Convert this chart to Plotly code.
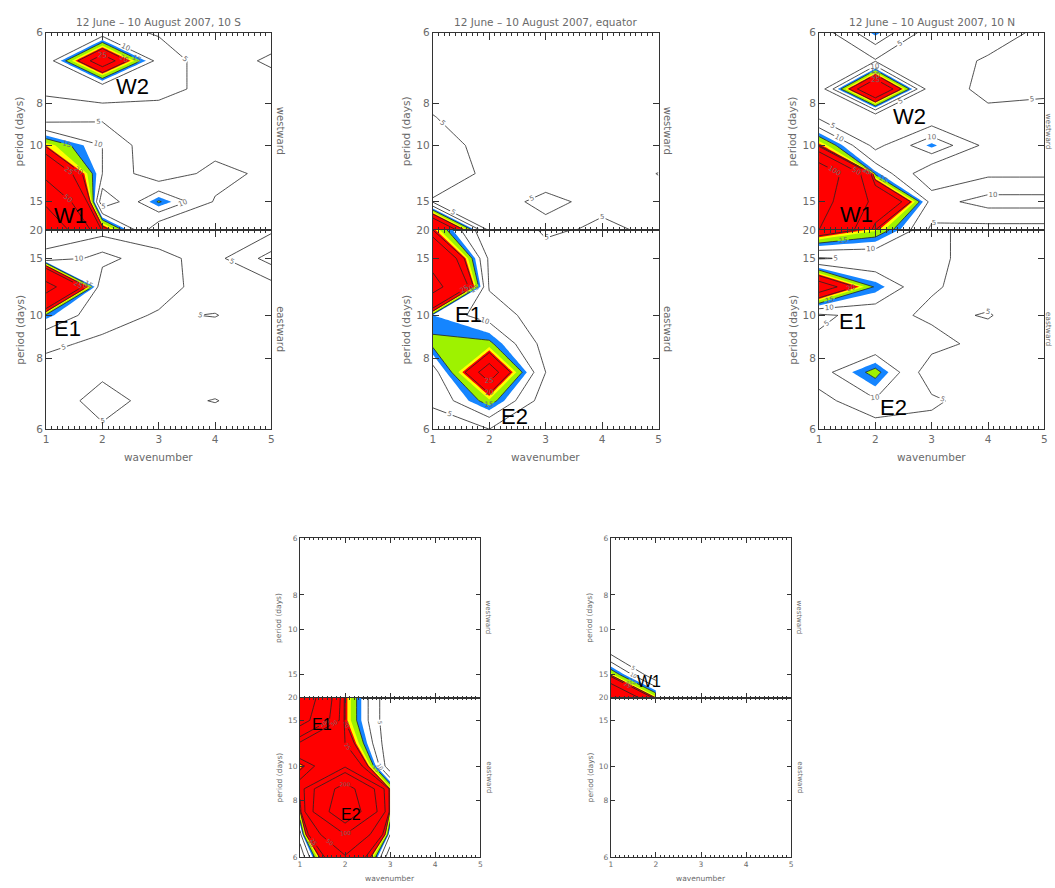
import plotly.graph_objects as go

FIG_W, FIG_H = 1055, 888

# ---------------------------------------------------------------- data
WAVENUMBER = [1, 2, 3, 4, 5]
# spectral rows: 3/60 ... 10/60 cycles per day (60-day window)
PERIOD_DAYS = [20, 15, 12, 10, 60 / 7, 7.5, 60 / 9, 6]
PERIOD_TICKS = [6, 8, 10, 15, 20]

LINE_LEVELS = [5, 10, 15, 20, 25, 50, 100, 200]
FILL_LEVELS = [13, 15, 17.5, 19]
FILL_COLORS = ["#1585ff", "#9ef200", "#ffff00", "#ff0000"]

TITLE_10S = "12 June \u2013 10 August 2007, 10 S"
TITLE_EQ = "12 June \u2013 10 August 2007, equator"
TITLE_10N = "12 June \u2013 10 August 2007, 10 N"

# power, rows follow PERIOD_DAYS (20 d first), columns follow WAVENUMBER
S10_WEST = [
    [150, 23, 0.5, 3, 2],
    [90, 0.5, 15.5, 4.5, 3],
    [38, 10, 1, 7, 3.5],
    [19, 10, 0.5, 2.5, 2],
    [2, 4, 2, 2, 2],
    [6, 6, 7, 3, 2],
    [7, 30, 8, 2, 6],
    [7, 7, 4.5, 1, 2],
]
S10_EAST = [
    [3, 3, 3, 3, 4],
    [6, 12, 6, 3.5, 12],
    [60, 5.5, 7, 2.5, 3],
    [14, 7, 4.5, 5.2, 2],
    [6, 4, 3, 2, 2],
    [3, 4, 1, 1, 1],
    [2, 7, 3, 5.3, 1],
    [1, 4.3, 1, 1, 1],
]
EQ_WEST = [
    [40, 4, 3.8, 6, 4],
    [4.5, 3.3, 6, 3.8, 3.6],
    [8, 4, 3, 3, 5.1],
    [8, 2.8, 2, 2, 2],
    [5.2, 2, 1, 1, 1],
    [3, 1, 1, 1, 1],
    [1, 1, 1, 1, 1],
    [1, 1, 1, 1, 1],
]
EQ_EAST = [
    [20, 0, 5.8, 4, 2],
    [40, 4, 3, 2, 2],
    [60, 4.5, 2, 2, 2],
    [13, 8, 2, 2, 2],
    [16, 16, 3, 2, 2],
    [8, 29, 5, 2, 2],
    [6, 17, 2, 2, 2],
    [2, 5, 2, 2, 2],
]
N10_WEST = [
    [100, 20, 4, 3, 3],
    [120, 40, 8, 12, 12],
    [150, 14, 0.5, 4, 4],
    [20, 3.3, 14, 3.3, 2],
    [4, 1, 1, 3, 3],
    [1.5, 36, 1, 7, 6],
    [2, 4.5, 3, 5.5, 7],
    [2, 14, 2, 3, 6],
]
N10_EAST = [
    [24, 18, 6, 3, 2],
    [4.5, 6, 6, 3, 2],
    [30, 14.5, 5.5, 3, 2],
    [4, 7, 4, 5.3, 2],
    [6, 6, 7, 3, 2],
    [8, 16.5, 1.5, 2, 2],
    [3, 9.5, 6, 2, 2],
    [1, 2, 3, 2, 2],
]
LOWER_A_WEST = [
    [2, 1, 1, 1, 1],
    [1, 1, 1, 1, 1],
    [1, 1, 1, 1, 1],
    [1, 1, 1, 1, 1],
    [1, 1, 1, 1, 1],
    [1, 1, 1, 1, 1],
    [1, 1, 1, 1, 1],
    [1, 1, 1, 1, 1],
]
LOWER_A_EAST = [
    [300, 20, 0.5, None, None],
    [250, 20, 0.5, None, None],
    [40, 25, 0.5, None, None],
    [17.8, 40, 0.5, None, None],
    [30, 250, 19, None, None],
    [19, 300, 19, None, None],
    [8, 100, 10, None, None],
    [0.5, 45, 0.5, None, None],
]
LOWER_B_WEST = [
    [100, 18.6, None, None, None],
    [18.6, 0.5, None, None, None],
    [3.3, 0.5, None, None, None],
    [0.5, 0.5, None, None, None],
    [0.5, 0.5, None, None, None],
    [0.5, 0.5, None, None, None],
    [0.5, 0.5, None, None, None],
    [0.5, 0.5, None, None, None],
]
LOWER_B_EAST = [
    [1, 1, 1, 1, 1],
    [1, 1, 1, 1, 1],
    [1, 1, 1, 1, 1],
    [1, 1, 1, 1, 1],
    [1, 1, 1, 1, 1],
    [1, 1, 1, 1, 1],
    [1, 1, 1, 1, 1],
    [2, 1, 1, 1, 1],
]

# ---------------------------------------------------------------- layout (pixels)
GROUPS = [
    dict(x=(43.3, 270.0), y=(27.0, 227.0, 429.0), fs=10.5, lab=22, title=TITLE_10S,
         west=S10_WEST, east=S10_EAST, side=9,
         marks=[("W2", 130, 82), ("W1", 68, 212), ("E1", 65, 327)]),
    dict(x=(432.3, 659.3), y=(27.0, 227.0, 429.0), fs=10.5, lab=22, title=TITLE_EQ,
         west=EQ_WEST, east=EQ_EAST, side=9,
         marks=[("E1", 468, 313), ("E2", 514, 416)]),
    dict(x=(820.7, 1047.3), y=(27.0, 227.0, 429.0), fs=10.5, lab=22, title=TITLE_10N,
         west=N10_WEST, east=N10_EAST, side=4.5,
         marks=[("W2", 912, 112), ("W1", 858, 211), ("E1", 854, 320), ("E2", 896, 407)]),
    dict(x=(298.7, 480.0), y=(539.3, 701.0, 863.0), fs=7.5, lab=16, title=None,
         west=LOWER_A_WEST, east=LOWER_A_EAST, side=8,
         marks=[("E1", 321, 728), ("E2", 350, 820)]),
    dict(x=(611.3, 792.7), y=(539.3, 701.0, 863.0), fs=7.5, lab=16, title=None,
         west=LOWER_B_WEST, east=LOWER_B_EAST, side=8,
         marks=[("W1", 650, 685)]),
]

GRAY = "#6a6a6a"
AXIS = "#333333"
FONT = "DejaVu Sans"

fig = go.Figure()
annotations = []


def px_x(x):
    return x / FIG_W


def px_y(y):
    return 1 - y / FIG_H


def note(x, y, text, size, color=GRAY, angle=0, family=FONT):
    annotations.append(dict(
        x=px_x(x), y=px_y(y), xref="paper", yref="paper", text=text, showarrow=False,
        textangle=angle, xanchor="center", yanchor="middle",
        font=dict(size=size, color=color, family=family)))


def add_field(n, grid, label_size):
    cols = [j for j in range(len(WAVENUMBER)) if any(r[j] is not None for r in grid)]
    xs = [WAVENUMBER[j] for j in cols]
    zs = [[r[j] for j in cols] for r in grid]
    ys = [1.0 / p for p in PERIOD_DAYS]
    zmax = max(max(r) for r in zs)
    ax = dict(xaxis=f"x{n}", yaxis=f"y{n}")
    # keeps the axes of a panel drawn even where nothing reaches the lowest level
    fig.add_trace(go.Scatter(x=[None], y=[None], mode="markers", **ax, hoverinfo="skip"))
    for lvl, col in zip(FILL_LEVELS, FILL_COLORS):
        if zmax > lvl:
            # constraint contours shade where the constraint fails: "<" shades z above lvl
            fig.add_trace(go.Contour(
                x=xs, y=ys, z=zs, **ax, showscale=False, hoverinfo="skip",
                contours=dict(type="constraint", operation="<", value=lvl),
                fillcolor=col, line=dict(width=0, color=col, smoothing=0)))
    for lvl in LINE_LEVELS:
        if zmax > lvl:
            fig.add_trace(go.Contour(
                x=xs, y=ys, z=zs, **ax, showscale=False, hoverinfo="skip",
                autocontour=False,
                contours=dict(coloring="none", start=lvl, end=lvl, size=1,
                              showlabels=True,
                              labelfont=dict(size=label_size, color=GRAY, family=FONT)),
                line=dict(color="#222222", width=0.8, smoothing=0)))


layout = {}
n = 0
for g in GROUPS:
    x0, x1 = g["x"]
    yt, ym, yb = g["y"]
    fs = g["fs"]
    for part in ("west", "east"):
        n += 1
        upper = part == "west"
        dom_y = [px_y(ym), px_y(yt)] if upper else [px_y(yb), px_y(ym)]
        add_field(n, g[part], 7 if fs > 9 else 5.5)
        layout[f"xaxis{n}"] = dict(
            domain=[px_x(x0), px_x(x1)], anchor=f"y{n}", range=[1, 5],
            showgrid=False, zeroline=False, showline=True, linecolor=AXIS, linewidth=1,
            mirror="ticks", ticks="inside", ticklen=7 if fs > 9 else 5, tickcolor=AXIS,
            tickmode="linear", tick0=1, dtick=1, showticklabels=not upper,
            tickfont=dict(size=fs, color=GRAY, family=FONT),
            minor=dict(ticks="inside", dtick=0.1, ticklen=3 if fs > 9 else 2, tickcolor=AXIS))
        tv = [1.0 / p for p in PERIOD_TICKS]
        tt = [str(p) if (upper or p != 20) else "" for p in PERIOD_TICKS]
        layout[f"yaxis{n}"] = dict(
            domain=dom_y, anchor=f"x{n}",
            range=[1.0 / 20, 1.0 / 6] if upper else [1.0 / 6, 1.0 / 20],
            showgrid=False, zeroline=False, showline=True, linecolor=AXIS, linewidth=1,
            mirror="ticks", ticks="inside", ticklen=6 if fs > 9 else 4, tickcolor=AXIS,
            tickvals=tv, ticktext=tt,
            tickfont=dict(size=fs, color=GRAY, family=FONT))
        cy = (yt + ym) / 2 if upper else (ym + yb) / 2
        note(x0 - (27 if fs > 9 else 21), cy, "period (days)", fs, angle=-90)
        note(x1 + g["side"], cy, "westward" if upper else "eastward",
             (fs - 0.5) if g["side"] > 5 else 7.5, angle=90)
    note((x0 + x1) / 2, yb + (28 if fs > 9 else 21), "wavenumber", fs)
    if g["title"]:
        note((x0 + x1) / 2, yt - 11, g["title"], fs)
    for txt, lx, ly in g["marks"]:
        note(lx, ly, txt, g["lab"], color="black", family="Liberation Sans")

fig.update_layout(
    width=FIG_W, height=FIG_H, margin=dict(l=0, r=0, t=0, b=0),
    paper_bgcolor="white", plot_bgcolor="white", showlegend=False,
    annotations=annotations, **layout)

fig.write_html("out.html")
